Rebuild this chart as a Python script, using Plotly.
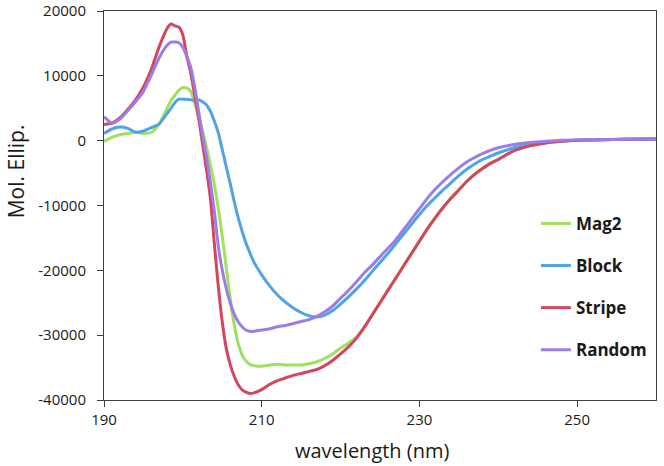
import plotly.graph_objects as go

# wavelength grid (nm)
wavelength = [190, 191, 192, 193, 194, 195, 196, 197, 198, 198.5, 199, 199.5, 200, 200.5,
              201, 201.5, 202, 202.5, 203, 203.5, 204, 204.5, 205, 205.5, 206, 206.5, 207,
              207.5, 208, 208.5, 209, 210, 211, 212, 213, 214, 215, 216, 217, 218, 219, 220,
              221, 222, 223, 224, 225, 226, 227, 228, 229, 230, 231, 232, 233, 234, 235, 236,
              237, 238, 239, 240, 242, 244, 246, 248, 250, 253, 256, 260]

stripe = [2500, 2700, 3500, 4800, 6300, 8300, 11000, 14500, 17300, 18000, 17700, 17500, 16300, 13000,
          10500, 7000, 3500, -500, -4500, -9000, -16000, -22500, -28000, -32000, -34500, -36300, -37600,
          -38400, -38800, -39000, -38900, -38400, -37600, -37000, -36600, -36200, -35900, -35600, -35300, -34700, -33900, -32900,
          -31800, -30500, -28800, -26900, -25000, -23100, -21200, -19300, -17400, -15500, -13600, -11900, -10300, -8900, -7600, -6300,
          -5200, -4300, -3500, -2900, -1550, -800, -350, -100, 50, 150, 200, 250]

mag2 = [-100, 500, 900, 1100, 1300, 1100, 1300, 2600, 5000, 6200, 7000, 7800, 8200, 8100,
        7600, 5800, 3700, 1500, -1000, -3800, -6800, -10500, -14800, -19500, -24300, -28300, -31200,
        -33000, -34000, -34500, -34700, -34800, -34600, -34500, -34600, -34600, -34600, -34400, -34100, -33600, -32900, -32000,
        -31200, -30300, -28800, -26900, -25000, -23100, -21200, -19300, -17400, -15500, -13600, -11900, -10300, -8900, -7600, -6300,
        -5200, -4300, -3500, -2900, -1550, -800, -350, -100, 50, 150, 200, 250]

block = [1100, 1800, 2100, 1900, 1300, 1500, 2000, 2600, 4200, 5000, 5900, 6400, 6400, 6400,
         6300, 6200, 6300, 6000, 5500, 4500, 3000, 1200, -1400, -4000, -6600, -9300, -11800,
         -13900, -15800, -17300, -18700, -20700, -22400, -23800, -24900, -25800, -26500, -27000, -27200, -26900, -26200, -25200,
         -24100, -22900, -21600, -20200, -18800, -17400, -15900, -14400, -12900, -11400, -10000, -8800, -7600, -6500, -5400, -4400,
         -3600, -2900, -2400, -1900, -1100, -600, -250, -50, 80, 150, 200, 250]

random_ = [3700, 2700, 3300, 4600, 6000, 7600, 10100, 12800, 14700, 15200, 15200, 15100, 14400, 13000,
           11300, 8300, 4500, 800, -2500, -6500, -11000, -16300, -20000, -22800, -25000, -26700, -27900,
           -28700, -29200, -29400, -29400, -29200, -29000, -28700, -28500, -28200, -27900, -27600, -27100, -26400, -25500, -24300,
           -23100, -21800, -20400, -19200, -17900, -16600, -15300, -13700, -12100, -10500, -8900, -7500, -6300, -5200, -4200, -3300,
           -2600, -2000, -1500, -1100, -600, -300, -100, 50, 100, 150, 200, 250]

series_names = ["Mag2", "Block", "Stripe", "Random"]
series_values = [mag2, block, stripe, random_]
series_colors = ["#9fe05c", "#4fa3e6", "#d3465f", "#9b7de8"]

x_ticks = [190, 210, 230, 250]
y_ticks = [20000, 10000, 0, -10000, -20000, -30000, -40000]
y_tick_labels = ["20000", "10000", "0", "-10000", "-20000", "-30000", "-40000"]

FONT = "'Open Sans', Lato, sans-serif"

fig = go.Figure()
for name, vals, col in zip(series_names, series_values, series_colors):
    fig.add_trace(go.Scatter(x=wavelength, y=vals, mode="lines", name=name,
                             legendgroup=name,
                             line=dict(color=col, width=3, shape="spline", smoothing=0.6)))

fig.update_layout(
    width=664, height=466,
    margin=dict(l=104, r=8, t=11, b=66, pad=0, autoexpand=False),
    paper_bgcolor="white", plot_bgcolor="white",
    font=dict(family=FONT, color="#1a1a1a", size=15),
    showlegend=True,
    legend=dict(x=0.7825, y=0.499, xanchor="left", yanchor="top",
                bgcolor="rgba(0,0,0,0)", tracegroupgap=17,
                font=dict(family=FONT, size=17, color="#1a1a1a", weight="bold")),
    xaxis=dict(range=[190, 260], tickvals=x_ticks, ticks="outside", ticklen=6,
               tickcolor="#404040", showline=True, linecolor="#404040", linewidth=1,
               mirror=True, showgrid=False, zeroline=False, automargin=False,
               tickfont=dict(family=FONT, size=15, color="#1a1a1a")),
    yaxis=dict(range=[-40000, 20000], tickvals=y_ticks, ticktext=y_tick_labels,
               ticks="outside", ticklen=6, tickcolor="#404040",
               showline=True, linecolor="#404040", linewidth=1, mirror=True,
               showgrid=False, zeroline=False, automargin=False, ticklabelstandoff=8,
               tickfont=dict(family=FONT, size=15, color="#1a1a1a")),
    annotations=[
        dict(text="Mol. Ellip.", xref="paper", yref="paper", x=-0.160, y=0.587,
             textangle=-90, showarrow=False, xanchor="center", yanchor="middle",
             font=dict(family=FONT, size=21, color="#1a1a1a")),
        dict(text="wavelength (nm)", xref="paper", yref="paper", x=0.487, y=-0.130,
             showarrow=False, xanchor="center", yanchor="middle",
             font=dict(family=FONT, size=20, color="#1a1a1a")),
    ],
)

fig.write_html("out.html", config={"displayModeBar": False},
               post_script="document.body.style.margin='0px';")
